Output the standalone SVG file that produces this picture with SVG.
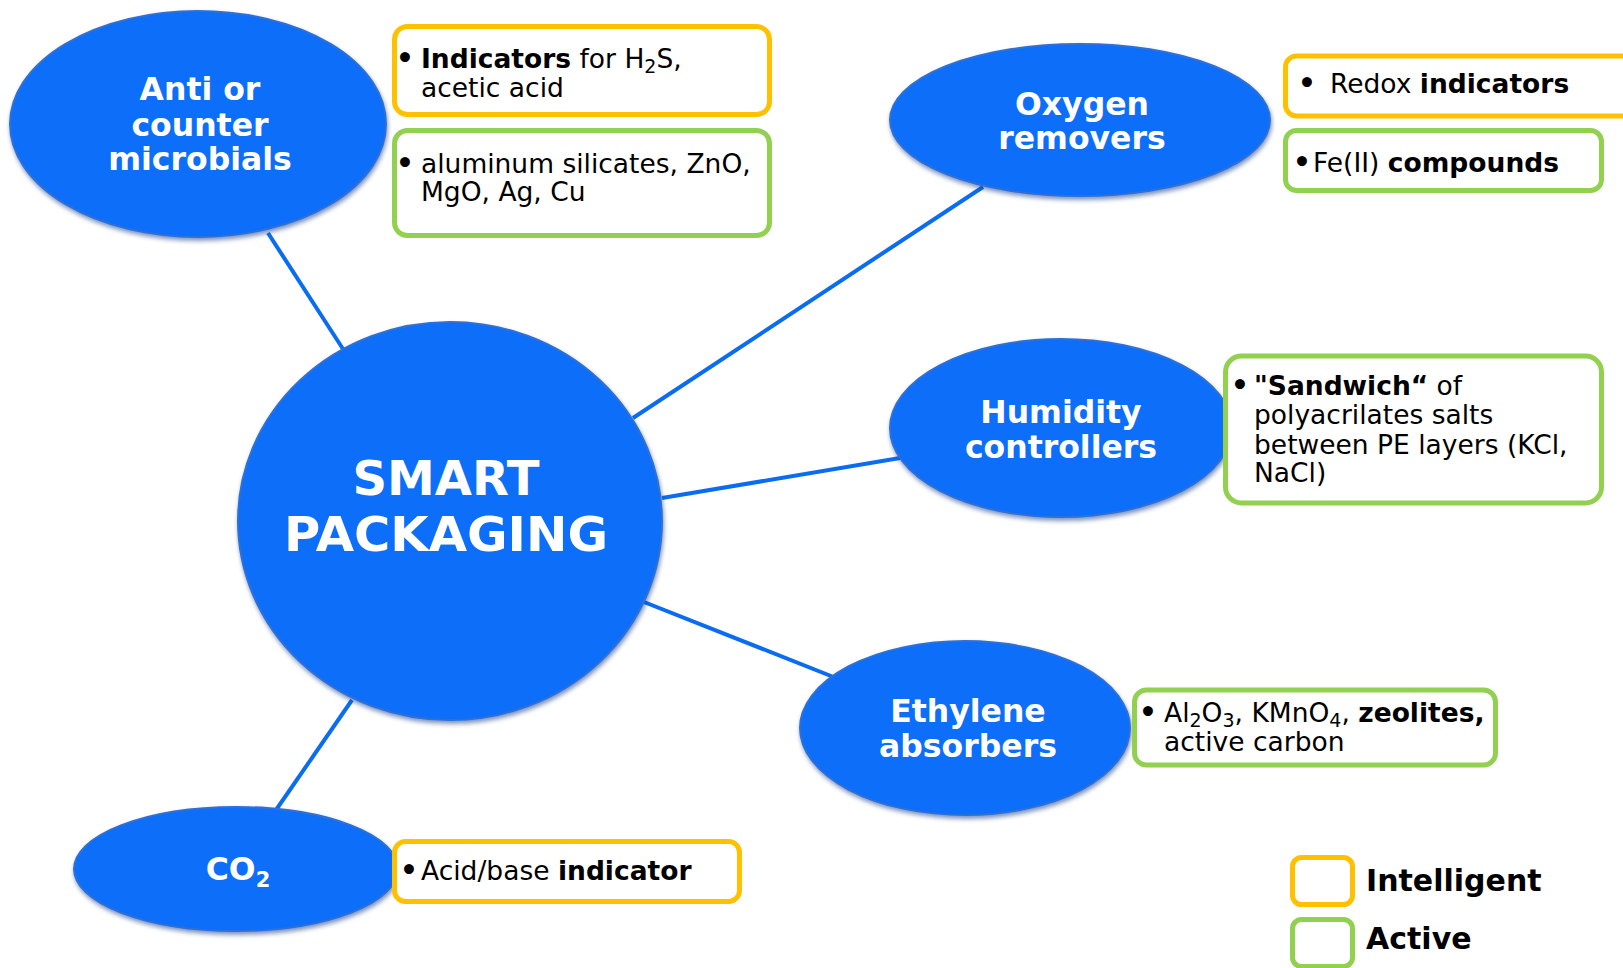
<svg xmlns="http://www.w3.org/2000/svg" width="1623" height="968" viewBox="0 0 1623 968">
<defs>
<filter id="sh" x="-10%" y="-10%" width="120%" height="125%">
<feGaussianBlur in="SourceAlpha" stdDeviation="2"/>
<feOffset dx="1" dy="3" result="b"/>
<feFlood flood-color="#1a3f8a" flood-opacity="0.55"/>
<feComposite in2="b" operator="in" result="s"/>
<feMerge><feMergeNode in="s"/><feMergeNode in="SourceGraphic"/></feMerge>
</filter>
<style>
.node{fill:#0A6EFA;stroke:#2f6fd6;stroke-width:2;filter:url(#sh);}
.lbl{font-family:"DejaVu Sans","Verdana",sans-serif;font-weight:bold;fill:#ffffff;font-size:31.5px;text-anchor:middle;}
.big{font-size:48px;}
.conn{stroke:#0A6CF0;stroke-width:4;stroke-linecap:butt;}
.yel{fill:#ffffff;stroke:#FFC000;stroke-width:5;}
.grn{fill:#ffffff;stroke:#92D050;stroke-width:5;}
.txt{font-family:"DejaVu Sans","Verdana",sans-serif;font-size:26.5px;fill:#000000;}
.bul{font-family:"DejaVu Sans","Verdana",sans-serif;font-size:28px;font-weight:bold;fill:#000000;text-anchor:middle;}
.b{font-weight:bold;}
.sub{font-size:19px;baseline-shift:-5px;}
.leg{font-family:"DejaVu Sans","Verdana",sans-serif;font-size:30px;font-weight:bold;fill:#000000;}
</style>
</defs>
<rect width="1623" height="968" fill="#ffffff"/>

<g id="connectors">
<line class="conn" x1="268" y1="233" x2="343" y2="349"/>
<line class="conn" x1="633" y1="418" x2="983" y2="187"/>
<line class="conn" x1="662" y1="498" x2="900" y2="458"/>
<line class="conn" x1="644" y1="602" x2="836" y2="678"/>
<line class="conn" x1="352" y1="700" x2="276" y2="810"/>
</g>

<g id="smart-packaging">
<ellipse class="node" cx="450" cy="521" rx="212" ry="199"/>
<text class="lbl big" x="446" y="495">SMART</text>
<text class="lbl big" x="446" y="551" textLength="324" lengthAdjust="spacingAndGlyphs">PACKAGING</text>
</g>

<g id="anti-microbials">
<ellipse class="node" cx="198" cy="124" rx="188" ry="113"/>
<text class="lbl" x="200" y="100">Anti or</text>
<text class="lbl" x="200" y="136">counter</text>
<text class="lbl" x="200" y="170">microbials</text>
</g>

<g id="oxygen-removers">
<ellipse class="node" cx="1080" cy="120" rx="190" ry="76"/>
<text class="lbl" x="1082" y="115">Oxygen</text>
<text class="lbl" x="1082" y="149">removers</text>
</g>

<g id="humidity-controllers">
<ellipse class="node" cx="1061" cy="428" rx="171" ry="89"/>
<text class="lbl" x="1061" y="423">Humidity</text>
<text class="lbl" x="1061" y="458">controllers</text>
</g>

<g id="ethylene-absorbers">
<ellipse class="node" cx="965" cy="728" rx="165" ry="87"/>
<text class="lbl" x="968" y="722">Ethylene</text>
<text class="lbl" x="968" y="757">absorbers</text>
</g>

<g id="co2">
<ellipse class="node" cx="236" cy="869" rx="162" ry="62"/>
<text class="lbl" x="238" y="880">CO<tspan font-size="21px" dy="7">2</tspan></text>
</g>

<g id="box-anti-intelligent">
<rect class="yel" x="394.5" y="26.5" width="375" height="88" rx="13"/>
<text class="bul" x="405" y="68">•</text>
<text class="txt" x="421" y="68"><tspan class="b">Indicators</tspan> for H<tspan class="sub">2</tspan>S,</text>
<text class="txt" x="421" y="97">acetic acid</text>
</g>

<g id="box-anti-active">
<rect class="grn" x="394.5" y="130.5" width="375" height="105" rx="13"/>
<text class="bul" x="405" y="173">•</text>
<text class="txt" x="421" y="173">aluminum silicates, ZnO,</text>
<text class="txt" x="421" y="201">MgO, Ag, Cu</text>
</g>

<g id="box-oxygen-intelligent">
<rect class="yel" x="1285.5" y="56" width="400" height="60" rx="11"/>
<text class="bul" x="1307" y="93">•</text>
<text class="txt" x="1330" y="93">Redox <tspan class="b">indicators</tspan></text>
</g>

<g id="box-oxygen-active">
<rect class="grn" x="1285.5" y="130.5" width="316" height="60" rx="11"/>
<text class="bul" x="1302" y="172">•</text>
<text class="txt" x="1313" y="172">Fe(II) <tspan class="b">compounds</tspan></text>
</g>

<g id="box-humidity-active">
<rect class="grn" x="1225.5" y="356" width="376" height="147" rx="16"/>
<text class="bul" x="1240" y="395">•</text>
<text class="txt" x="1254" y="395"><tspan class="b">"Sandwich“</tspan> of</text>
<text class="txt" x="1254" y="424">polyacrilates salts</text>
<text class="txt" x="1254" y="454">between PE layers (KCl,</text>
<text class="txt" x="1254" y="482">NaCl)</text>
</g>

<g id="box-ethylene-active">
<rect class="grn" x="1134.5" y="690" width="361" height="75" rx="12"/>
<text class="bul" x="1148" y="722">•</text>
<text class="txt" x="1164" y="722">Al<tspan class="sub">2</tspan>O<tspan class="sub">3</tspan>, KMnO<tspan class="sub">4</tspan>, <tspan class="b">zeolites,</tspan></text>
<text class="txt" x="1164" y="751">active carbon</text>
</g>

<g id="box-co2-intelligent">
<rect class="yel" x="394.5" y="841.5" width="345" height="60" rx="11"/>
<text class="bul" x="409" y="880">•</text>
<text class="txt" x="421" y="880">Acid/base <tspan class="b">indicator</tspan></text>
</g>

<g id="legend">
<rect class="yel" x="1292.5" y="857.5" width="60" height="47" rx="9"/>
<text class="leg" x="1366" y="891">Intelligent</text>
<rect class="grn" x="1292.5" y="919.5" width="60" height="47" rx="9"/>
<text class="leg" x="1366" y="949">Active</text>
</g>
</svg>
